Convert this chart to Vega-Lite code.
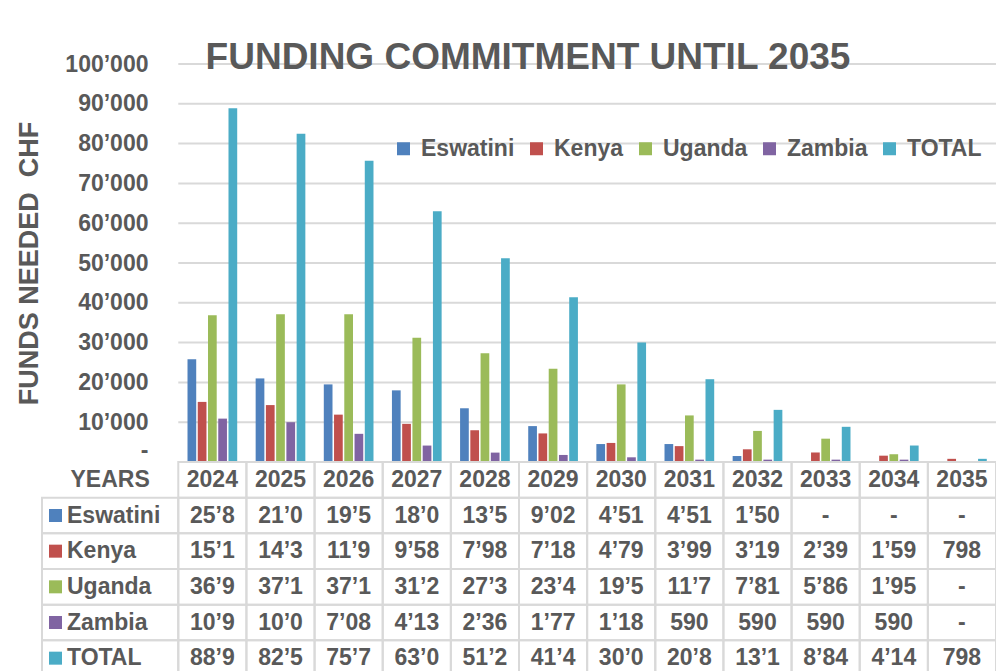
{
  "$schema": "https://vega.github.io/schema/vega-lite/v6.json",
  "width": 954,
  "height": 607,
  "autosize": {"type": "none"},
  "padding": {"left": 42, "top": 64, "right": 0, "bottom": 0},
  "background": "white",
  "config": {"view": {"stroke": null}, "font": "Liberation Sans"},
  "title": {
    "text": "FUNDING COMMITMENT UNTIL 2035",
    "font": "Liberation Sans",
    "fontSize": 37,
    "fontWeight": "bold",
    "color": "#595959",
    "anchor": "middle",
    "frame": "group",
    "baseline": "alphabetic",
    "offset": 0,
    "dx": 9,
    "dy": 53
  },
  "datasets": {
    "funds": [
      {"year": "2024", "series": "Eswatini", "value": 25800, "label": "25’8"},
      {"year": "2024", "series": "Kenya", "value": 15100, "label": "15’1"},
      {"year": "2024", "series": "Uganda", "value": 36900, "label": "36’9"},
      {"year": "2024", "series": "Zambia", "value": 10900, "label": "10’9"},
      {"year": "2024", "series": "TOTAL", "value": 88900, "label": "88’9"},
      {"year": "2025", "series": "Eswatini", "value": 21000, "label": "21’0"},
      {"year": "2025", "series": "Kenya", "value": 14300, "label": "14’3"},
      {"year": "2025", "series": "Uganda", "value": 37100, "label": "37’1"},
      {"year": "2025", "series": "Zambia", "value": 10000, "label": "10’0"},
      {"year": "2025", "series": "TOTAL", "value": 82500, "label": "82’5"},
      {"year": "2026", "series": "Eswatini", "value": 19500, "label": "19’5"},
      {"year": "2026", "series": "Kenya", "value": 11900, "label": "11’9"},
      {"year": "2026", "series": "Uganda", "value": 37100, "label": "37’1"},
      {"year": "2026", "series": "Zambia", "value": 7080, "label": "7’08"},
      {"year": "2026", "series": "TOTAL", "value": 75700, "label": "75’7"},
      {"year": "2027", "series": "Eswatini", "value": 18000, "label": "18’0"},
      {"year": "2027", "series": "Kenya", "value": 9580, "label": "9’58"},
      {"year": "2027", "series": "Uganda", "value": 31200, "label": "31’2"},
      {"year": "2027", "series": "Zambia", "value": 4130, "label": "4’13"},
      {"year": "2027", "series": "TOTAL", "value": 63000, "label": "63’0"},
      {"year": "2028", "series": "Eswatini", "value": 13500, "label": "13’5"},
      {"year": "2028", "series": "Kenya", "value": 7980, "label": "7’98"},
      {"year": "2028", "series": "Uganda", "value": 27300, "label": "27’3"},
      {"year": "2028", "series": "Zambia", "value": 2360, "label": "2’36"},
      {"year": "2028", "series": "TOTAL", "value": 51200, "label": "51’2"},
      {"year": "2029", "series": "Eswatini", "value": 9020, "label": "9’02"},
      {"year": "2029", "series": "Kenya", "value": 7180, "label": "7’18"},
      {"year": "2029", "series": "Uganda", "value": 23400, "label": "23’4"},
      {"year": "2029", "series": "Zambia", "value": 1770, "label": "1’77"},
      {"year": "2029", "series": "TOTAL", "value": 41400, "label": "41’4"},
      {"year": "2030", "series": "Eswatini", "value": 4510, "label": "4’51"},
      {"year": "2030", "series": "Kenya", "value": 4790, "label": "4’79"},
      {"year": "2030", "series": "Uganda", "value": 19500, "label": "19’5"},
      {"year": "2030", "series": "Zambia", "value": 1180, "label": "1’18"},
      {"year": "2030", "series": "TOTAL", "value": 30000, "label": "30’0"},
      {"year": "2031", "series": "Eswatini", "value": 4510, "label": "4’51"},
      {"year": "2031", "series": "Kenya", "value": 3990, "label": "3’99"},
      {"year": "2031", "series": "Uganda", "value": 11700, "label": "11’7"},
      {"year": "2031", "series": "Zambia", "value": 590, "label": "590"},
      {"year": "2031", "series": "TOTAL", "value": 20800, "label": "20’8"},
      {"year": "2032", "series": "Eswatini", "value": 1500, "label": "1’50"},
      {"year": "2032", "series": "Kenya", "value": 3190, "label": "3’19"},
      {"year": "2032", "series": "Uganda", "value": 7810, "label": "7’81"},
      {"year": "2032", "series": "Zambia", "value": 590, "label": "590"},
      {"year": "2032", "series": "TOTAL", "value": 13100, "label": "13’1"},
      {"year": "2033", "series": "Eswatini", "value": 0, "label": "-"},
      {"year": "2033", "series": "Kenya", "value": 2390, "label": "2’39"},
      {"year": "2033", "series": "Uganda", "value": 5860, "label": "5’86"},
      {"year": "2033", "series": "Zambia", "value": 590, "label": "590"},
      {"year": "2033", "series": "TOTAL", "value": 8840, "label": "8’84"},
      {"year": "2034", "series": "Eswatini", "value": 0, "label": "-"},
      {"year": "2034", "series": "Kenya", "value": 1590, "label": "1’59"},
      {"year": "2034", "series": "Uganda", "value": 1950, "label": "1’95"},
      {"year": "2034", "series": "Zambia", "value": 590, "label": "590"},
      {"year": "2034", "series": "TOTAL", "value": 4140, "label": "4’14"},
      {"year": "2035", "series": "Eswatini", "value": 0, "label": "-"},
      {"year": "2035", "series": "Kenya", "value": 798, "label": "798"},
      {"year": "2035", "series": "Uganda", "value": 0, "label": "-"},
      {"year": "2035", "series": "Zambia", "value": 0, "label": "-"},
      {"year": "2035", "series": "TOTAL", "value": 798, "label": "798"}
    ],
    "ticks": [
      {"v": 0}, {"v": 10000}, {"v": 20000}, {"v": 30000}, {"v": 40000}, {"v": 50000},
      {"v": 60000}, {"v": 70000}, {"v": 80000}, {"v": 90000}, {"v": 100000}
    ],
    "years": [
      {"year": "2024"}, {"year": "2025"}, {"year": "2026"}, {"year": "2027"},
      {"year": "2028"}, {"year": "2029"}, {"year": "2030"}, {"year": "2031"},
      {"year": "2032"}, {"year": "2033"}, {"year": "2034"}, {"year": "2035"}
    ],
    "rows": [
      {"series": "Eswatini"}, {"series": "Kenya"}, {"series": "Uganda"},
      {"series": "Zambia"}, {"series": "TOTAL"}
    ],
    "header": [{"label": "YEARS"}]
  },
  "layer": [
    {
      "layer": [
        {
          "data": {"name": "ticks"},
          "mark": {"type": "rule", "color": "#D9D9D9", "strokeWidth": 2},
          "encoding": {
            "y": {"field": "v", "type": "quantitative", "title": "FUNDS NEEDED\u00a0 CHF",
                  "scale": {"domain": [0, 100000], "range": [398, 0]}},
            "x": {"datum": "2024", "type": "nominal", "bandPosition": 0,
                  "scale": {"domain": ["L1", "L2", "2024", "2025", "2026", "2027", "2028", "2029", "2030", "2031", "2032", "2033", "2034", "2035"], "paddingInner": 0, "paddingOuter": 0},
                  "axis": null},
            "x2": {"value": "width"}
          }
        },
        {
          "data": {"name": "funds"},
          "mark": {"type": "bar"},
          "encoding": {
            "x": {"field": "year", "type": "nominal",
                  "scale": {"domain": ["L1", "L2", "2024", "2025", "2026", "2027", "2028", "2029", "2030", "2031", "2032", "2033", "2034", "2035"], "paddingInner": 0, "paddingOuter": 0},
                  "axis": null},
            "xOffset": {"field": "series", "type": "nominal",
                        "scale": {"domain": ["Eswatini", "Kenya", "Uganda", "Zambia", "TOTAL"], "paddingInner": 0.15, "paddingOuter": 0.9}},
            "y": {"field": "value", "type": "quantitative", "title": "FUNDS NEEDED\u00a0 CHF",
                  "scale": {"domain": [0, 100000], "range": [398, 0]},
                  "axis": {
                    "orient": "left", "offset": -136, "domain": false, "ticks": false, "grid": false,
                    "values": [0, 10000, 20000, 30000, 40000, 50000, 60000, 70000, 80000, 90000, 100000],
                    "labelExpr": "datum.value == 0 ? '-\u00a0\u00a0' : replace(format(datum.value, ','), ',', '’')",
                    "labelBaseline": {"condition": {"test": "datum.value == 0", "value": "bottom"}, "value": "middle"},
                    "labelPadding": 30, "labelFontSize": 23, "labelFontWeight": "bold", "labelColor": "#595959",
                    "labelFont": "Liberation Sans", "labelOverlap": false,
                    "titleFont": "Liberation Sans", "titleFontSize": 27, "titleFontWeight": "bold", "titleColor": "#595959",
                    "titlePadding": 21
                  }},
            "color": {"field": "series", "type": "nominal",
                      "scale": {"domain": ["Eswatini", "Kenya", "Uganda", "Zambia", "TOTAL"],
                                "range": ["#4F81BD", "#C0504D", "#9BBB59", "#8064A2", "#4BACC6"]},
                      "legend": {"orient": "none", "legendX": 350, "legendY": 73, "direction": "horizontal",
                                 "title": null, "symbolType": "square", "symbolSize": 169, "symbolStrokeWidth": 0,
                                 "labelFontSize": 23, "labelFontWeight": "bold", "labelColor": "#595959",
                                 "labelFont": "Liberation Sans", "labelOffset": 6, "columnPadding": 10,
                                 "padding": 0, "labelLimit": 300}}
          }
        }
      ]
    },
    {
      "layer": [
        {
          "data": {"name": "years"},
          "mark": {"type": "rect", "fill": "white", "fillOpacity": 0, "stroke": "#D9D9D9", "strokeWidth": 2},
          "encoding": {
            "x": {"field": "year", "type": "nominal",
                  "scale": {"domain": ["L1", "L2", "2024", "2025", "2026", "2027", "2028", "2029", "2030", "2031", "2032", "2033", "2034", "2035"], "paddingInner": 0, "paddingOuter": 0},
                  "axis": null},
            "y": {"datum": "YEARS", "type": "nominal",
                  "scale": {"domain": ["YEARS", "Eswatini", "Kenya", "Uganda", "Zambia", "TOTAL"], "range": [398, 612], "paddingInner": 0, "paddingOuter": 0},
                  "axis": null}
          }
        },
        {
          "data": {"name": "funds"},
          "mark": {"type": "rect", "fill": "white", "fillOpacity": 0, "stroke": "#D9D9D9", "strokeWidth": 2},
          "encoding": {
            "x": {"field": "year", "type": "nominal",
                  "scale": {"domain": ["L1", "L2", "2024", "2025", "2026", "2027", "2028", "2029", "2030", "2031", "2032", "2033", "2034", "2035"], "paddingInner": 0, "paddingOuter": 0},
                  "axis": null},
            "y": {"field": "series", "type": "nominal",
                  "scale": {"domain": ["YEARS", "Eswatini", "Kenya", "Uganda", "Zambia", "TOTAL"], "range": [398, 612], "paddingInner": 0, "paddingOuter": 0},
                  "axis": null}
          }
        },
        {
          "data": {"name": "rows"},
          "mark": {"type": "rect", "fill": "white", "fillOpacity": 0, "stroke": "#D9D9D9", "strokeWidth": 2},
          "encoding": {
            "x": {"datum": "L1", "type": "nominal", "bandPosition": 0,
                  "scale": {"domain": ["L1", "L2", "2024", "2025", "2026", "2027", "2028", "2029", "2030", "2031", "2032", "2033", "2034", "2035"], "paddingInner": 0, "paddingOuter": 0},
                  "axis": null},
            "x2": {"datum": "2024", "bandPosition": 0},
            "y": {"field": "series", "type": "nominal",
                  "scale": {"domain": ["YEARS", "Eswatini", "Kenya", "Uganda", "Zambia", "TOTAL"], "range": [398, 612], "paddingInner": 0, "paddingOuter": 0},
                  "axis": null}
          }
        },
        {
          "data": {"name": "years"},
          "mark": {"type": "text", "font": "Liberation Sans", "fontSize": 23, "fontWeight": "bold", "color": "#595959"},
          "encoding": {
            "x": {"field": "year", "type": "nominal",
                  "scale": {"domain": ["L1", "L2", "2024", "2025", "2026", "2027", "2028", "2029", "2030", "2031", "2032", "2033", "2034", "2035"], "paddingInner": 0, "paddingOuter": 0},
                  "axis": null},
            "y": {"datum": "YEARS", "type": "nominal", "bandPosition": 0.5,
                  "scale": {"domain": ["YEARS", "Eswatini", "Kenya", "Uganda", "Zambia", "TOTAL"], "range": [398, 612], "paddingInner": 0, "paddingOuter": 0},
                  "axis": null},
            "text": {"field": "year"}
          }
        },
        {
          "data": {"name": "header"},
          "mark": {"type": "text", "font": "Liberation Sans", "fontSize": 23, "fontWeight": "bold", "color": "#595959"},
          "encoding": {
            "x": {"datum": "L2", "type": "nominal", "bandPosition": 0,
                  "scale": {"domain": ["L1", "L2", "2024", "2025", "2026", "2027", "2028", "2029", "2030", "2031", "2032", "2033", "2034", "2035"], "paddingInner": 0, "paddingOuter": 0},
                  "axis": null},
            "y": {"datum": "YEARS", "type": "nominal", "bandPosition": 0.5,
                  "scale": {"domain": ["YEARS", "Eswatini", "Kenya", "Uganda", "Zambia", "TOTAL"], "range": [398, 612], "paddingInner": 0, "paddingOuter": 0},
                  "axis": null},
            "text": {"field": "label"}
          }
        },
        {
          "data": {"name": "rows"},
          "mark": {"type": "text", "align": "left", "dx": 25, "font": "Liberation Sans", "fontSize": 23, "fontWeight": "bold", "color": "#595959"},
          "encoding": {
            "x": {"datum": "L1", "type": "nominal", "bandPosition": 0,
                  "scale": {"domain": ["L1", "L2", "2024", "2025", "2026", "2027", "2028", "2029", "2030", "2031", "2032", "2033", "2034", "2035"], "paddingInner": 0, "paddingOuter": 0},
                  "axis": null},
            "y": {"field": "series", "type": "nominal",
                  "scale": {"domain": ["YEARS", "Eswatini", "Kenya", "Uganda", "Zambia", "TOTAL"], "range": [398, 612], "paddingInner": 0, "paddingOuter": 0},
                  "axis": null},
            "text": {"field": "series"}
          }
        },
        {
          "data": {"name": "rows"},
          "mark": {"type": "square", "size": 169, "filled": true, "opacity": 1, "xOffset": 13.5},
          "encoding": {
            "x": {"datum": "L1", "type": "nominal", "bandPosition": 0,
                  "scale": {"domain": ["L1", "L2", "2024", "2025", "2026", "2027", "2028", "2029", "2030", "2031", "2032", "2033", "2034", "2035"], "paddingInner": 0, "paddingOuter": 0},
                  "axis": null},
            "y": {"field": "series", "type": "nominal",
                  "scale": {"domain": ["YEARS", "Eswatini", "Kenya", "Uganda", "Zambia", "TOTAL"], "range": [398, 612], "paddingInner": 0, "paddingOuter": 0},
                  "axis": null},
            "color": {"field": "series", "type": "nominal",
                      "scale": {"domain": ["Eswatini", "Kenya", "Uganda", "Zambia", "TOTAL"],
                                "range": ["#4F81BD", "#C0504D", "#9BBB59", "#8064A2", "#4BACC6"]},
                      "legend": null}
          }
        },
        {
          "data": {"name": "funds"},
          "mark": {"type": "text", "font": "Liberation Sans", "fontSize": 23, "fontWeight": "bold", "color": "#595959"},
          "encoding": {
            "x": {"field": "year", "type": "nominal",
                  "scale": {"domain": ["L1", "L2", "2024", "2025", "2026", "2027", "2028", "2029", "2030", "2031", "2032", "2033", "2034", "2035"], "paddingInner": 0, "paddingOuter": 0},
                  "axis": null},
            "y": {"field": "series", "type": "nominal",
                  "scale": {"domain": ["YEARS", "Eswatini", "Kenya", "Uganda", "Zambia", "TOTAL"], "range": [398, 612], "paddingInner": 0, "paddingOuter": 0},
                  "axis": null},
            "text": {"field": "label"}
          }
        }
      ]
    }
  ],
  "resolve": {
    "scale": {"y": "independent", "color": "independent"},
    "axis": {"y": "independent"},
    "legend": {"color": "independent"}
  }
}
